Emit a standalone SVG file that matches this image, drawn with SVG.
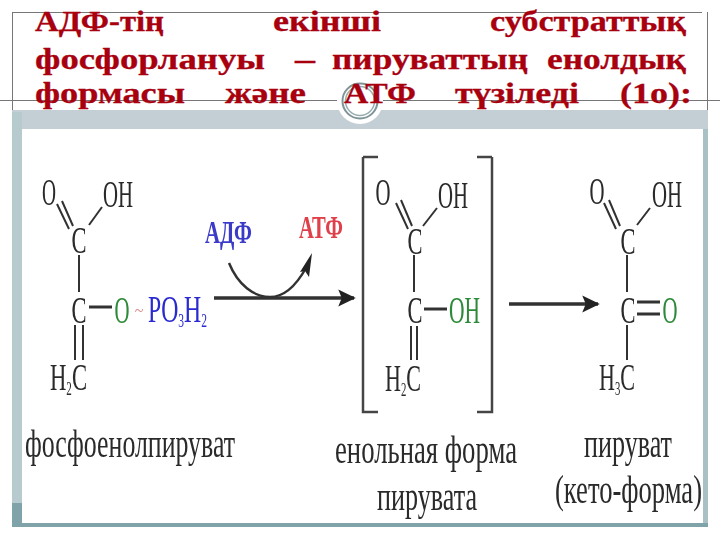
<svg xmlns="http://www.w3.org/2000/svg" width="720" height="540" viewBox="0 0 720 540">
<style>
.t{font-family:"Liberation Serif","Times New Roman",serif;font-weight:bold;font-size:30px;fill:#a8000f;stroke:#a8000f;stroke-width:.3}
.a{font-family:"Liberation Serif","Times New Roman",serif;font-size:37px;fill:#2b2b2b}
.s{font-size:18px}
.l{font-family:"Liberation Serif","Times New Roman",serif;font-size:41px;fill:#2a2a2a}
.b{stroke:#333;stroke-width:2;fill:none}
.k{stroke:#333;stroke-width:3;fill:none}
.g{fill:#2f8a3a}.bl{fill:#2a2ad0}
</style>
<defs>
<marker id="h" markerWidth="6" markerHeight="6" refX="4.5" refY="3" orient="auto"><path d="M0 .6L5 3L0 5.4L1 3Z" fill="#222"/></marker>
<filter id="f" x="-5%" y="-5%" width="110%" height="110%"><feGaussianBlur stdDeviation=".45"/></filter>
</defs>
<rect width="720" height="540" fill="#fff"/>
<g id="frame">
<rect x="12" y="110" width="696" height="417" fill="#c3cfd4"/>
<rect x="12" y="112" width="10" height="391" fill="#b7cacd"/>
<rect x="12" y="503" width="10" height="24" fill="#7fa3a8"/>
<rect x="12" y="523" width="696" height="4" fill="#7fa3a8"/>
<rect x="703" y="129" width="5" height="394" fill="#a9c0c4"/>
<rect x="22" y="129" width="681" height="394" fill="#fff"/>
<path d="M12 12.500H702M12.500 12V110M707.500 12V110M0 100.500H720" stroke="#777" fill="none"/>
<circle cx="360" cy="101" r="23" fill="#fff"/>
<circle cx="360" cy="101" r="17.500" fill="none" stroke="#7f9499" stroke-width="2"/>
<circle cx="360" cy="101" r="14.500" fill="none" stroke="#9aacb0" stroke-width="1.500"/>
</g>
<g id="title">
<text class="t" x="35" y="31" textLength="129" lengthAdjust="spacingAndGlyphs">АДФ-тің</text>
<text class="t" x="273" y="31" textLength="108" lengthAdjust="spacingAndGlyphs">екінші</text>
<text class="t" x="490" y="31" textLength="196" lengthAdjust="spacingAndGlyphs">субстраттық</text>
<text class="t" x="35" y="69" textLength="230" lengthAdjust="spacingAndGlyphs">фосфорлануы</text>
<text class="t" x="295" y="69" textLength="20" lengthAdjust="spacingAndGlyphs">–</text>
<text class="t" x="332" y="69" textLength="196" lengthAdjust="spacingAndGlyphs">пируваттың</text>
<text class="t" x="547" y="69" textLength="139" lengthAdjust="spacingAndGlyphs">енолдық</text>
<text class="t" x="35" y="103" textLength="150" lengthAdjust="spacingAndGlyphs">формасы</text>
<text class="t" x="225" y="103" textLength="81" lengthAdjust="spacingAndGlyphs">және</text>
<text class="t" x="344" y="103" textLength="72" lengthAdjust="spacingAndGlyphs">АТФ</text>
<text class="t" x="455" y="103" textLength="124" lengthAdjust="spacingAndGlyphs">түзіледі</text>
<text class="t" x="620" y="103" textLength="72" lengthAdjust="spacingAndGlyphs">(1o):</text>
</g>
<g filter="url(#f)">
<g id="connectors">
<path class="b" d="M57 204L69 229M62 201L73 226M102 207L89 225M79 255V292M75 325V360M83 325V360"/>
<path class="k" d="M89 307H112"/>
<path class="b" d="M396 203L408 229M401 200L412 226M437 208L423 226M414 255V292M411 326V360M417 326V360"/>
<path class="k" d="M424 309H447"/>
<path class="b" d="M604 203L616 229M609 200L620 226M650 208L637 225M627 255V292M627 325V360"/>
<path class="k" d="M637 302H660M637 314H660"/>
<path d="M363 157V412H378M378 157H363M492 157V412H477M477 157H492" stroke="#444" stroke-width="2.500" fill="none"/>
<path stroke="#333" stroke-width="3.500" fill="none" marker-end="url(#h)" d="M214 298H354"/>
<path stroke="#333" stroke-width="3.500" fill="none" marker-end="url(#h)" d="M509 304H598"/>
<path stroke="#333" stroke-width="2.500" fill="none" d="M229 263C238 285 254 297 270 297C286 297 297 284 306 268"/>
<path d="M312 253L300 272L305 271L309 277Z" fill="#222"/>
</g>
<g id="phosphoenolpyruvate">
<text class="a" x="49" y="205" text-anchor="middle" textLength="14" lengthAdjust="spacingAndGlyphs">O</text>
<text class="a" x="103" y="207" textLength="30" lengthAdjust="spacingAndGlyphs">OH</text>
<text class="a" x="79" y="253" text-anchor="middle" textLength="15" lengthAdjust="spacingAndGlyphs">C</text>
<text class="a" x="79" y="323" text-anchor="middle" textLength="15" lengthAdjust="spacingAndGlyphs">C</text>
<text class="a g" x="122" y="323" text-anchor="middle" textLength="15" lengthAdjust="spacingAndGlyphs">O</text>
<text class="a" x="139" y="316" text-anchor="middle" style="fill:#d88;font-size:16px">~</text>
<text class="a bl" x="148" y="322" textLength="59" lengthAdjust="spacingAndGlyphs">PO<tspan class="s" dy="5">3</tspan><tspan dy="-5">H</tspan><tspan class="s" dy="5">2</tspan></text>
<text class="a" x="50" y="390" textLength="37" lengthAdjust="spacingAndGlyphs">H<tspan class="s" dy="5">2</tspan><tspan dy="-5">C</tspan></text>
<text class="l" x="25" y="457" textLength="210" lengthAdjust="spacingAndGlyphs">фосфоенолпируват</text>
</g>
<g id="adp">
<text x="205" y="243" font-family="Liberation Serif" font-size="32" font-weight="bold" fill="#3a3ac8" textLength="47" lengthAdjust="spacingAndGlyphs">АДФ</text>
</g>
<g id="atp">
<text x="299" y="238" font-family="Liberation Serif" font-size="32" font-weight="bold" fill="#e0404a" textLength="44" lengthAdjust="spacingAndGlyphs">АТФ</text>
</g>
<g id="enol-pyruvate">
<text class="a" x="383" y="205" text-anchor="middle" textLength="15" lengthAdjust="spacingAndGlyphs">O</text>
<text class="a" x="438" y="208" textLength="30" lengthAdjust="spacingAndGlyphs">OH</text>
<text class="a" x="415" y="254" text-anchor="middle" textLength="15" lengthAdjust="spacingAndGlyphs">C</text>
<text class="a" x="415" y="323" text-anchor="middle" textLength="15" lengthAdjust="spacingAndGlyphs">C</text>
<text class="a g" x="449" y="323" textLength="31" lengthAdjust="spacingAndGlyphs">OH</text>
<text class="a" x="385" y="391" textLength="36" lengthAdjust="spacingAndGlyphs">H<tspan class="s" dy="5">2</tspan><tspan dy="-5">C</tspan></text>
<text class="l" x="335" y="463" textLength="182" lengthAdjust="spacingAndGlyphs">енольная форма</text>
<text class="l" x="377" y="510" textLength="100" lengthAdjust="spacingAndGlyphs">пирувата</text>
</g>
<g id="pyruvate">
<text class="a" x="597" y="204" text-anchor="middle" textLength="15" lengthAdjust="spacingAndGlyphs">O</text>
<text class="a" x="652" y="207" textLength="30" lengthAdjust="spacingAndGlyphs">OH</text>
<text class="a" x="628" y="254" text-anchor="middle" textLength="15" lengthAdjust="spacingAndGlyphs">C</text>
<text class="a" x="628" y="323" text-anchor="middle" textLength="15" lengthAdjust="spacingAndGlyphs">C</text>
<text class="a g" x="670" y="323" text-anchor="middle" textLength="15" lengthAdjust="spacingAndGlyphs">O</text>
<text class="a" x="599" y="390" textLength="36" lengthAdjust="spacingAndGlyphs">H<tspan class="s" dy="5">3</tspan><tspan dy="-5">C</tspan></text>
<text class="l" x="584" y="457" textLength="88" lengthAdjust="spacingAndGlyphs">пируват</text>
<text class="l" x="555" y="503" textLength="147" lengthAdjust="spacingAndGlyphs">(кето-форма)</text>
</g>
</g>
</svg>
